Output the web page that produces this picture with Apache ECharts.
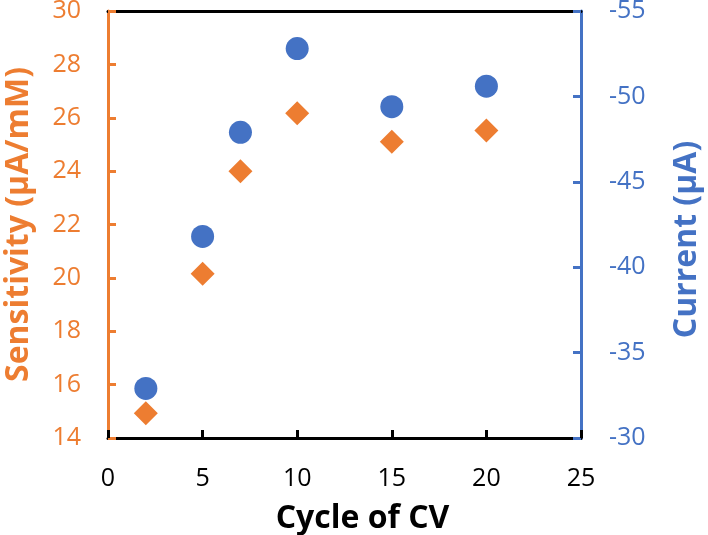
<!DOCTYPE html>
<html><head><meta charset="utf-8">
<script src="https://cdn.jsdelivr.net/npm/echarts@6/dist/echarts.min.js"></script>
<style>html,body{margin:0;padding:0;background:#fff}#c{width:708px;height:535px}</style>
</head><body><div id="c"></div>
<script>
const cycles = [2, 5, 7, 10, 15, 20];
const sensitivity = [14.93, 20.15, 24.0, 26.17, 25.1, 25.52];
const current = [-32.9, -41.8, -47.9, -52.8, -49.4, -50.6];
const ORANGE = '#ED7D31', BLUE = '#4472C4';
const FONT = 'Open Sans';
const chart = echarts.init(document.getElementById('c'));
chart.setOption({
  animation: false,
  grid: { left: 108, right: 127, top: 11, bottom: 97, containLabel: false, outerBoundsMode: 'none' },
  xAxis: [{
    type: 'value', min: 0, max: 25, interval: 5,
    name: 'Cycle of CV', nameLocation: 'middle', nameGap: 65,
    nameTextStyle: { fontFamily: FONT, fontWeight: 'bold', fontSize: 32, color: '#000', padding: [0, 0, 0, 36] },
    axisLine: { onZero: false, lineStyle: { color: '#000', width: 3 } },
    axisTick: { inside: true, length: 8, lineStyle: { color: '#000', width: 3 } },
    axisLabel: { margin: 28, fontFamily: FONT, fontSize: 25, color: '#000' },
    splitLine: { show: false }
  }, {
    type: 'value', min: 0, max: 25, position: 'top',
    axisLine: { onZero: false, lineStyle: { color: '#000', width: 3 } },
    axisTick: { show: false }, axisLabel: { show: false }, splitLine: { show: false }
  }],
  yAxis: [{
    type: 'value', min: 14, max: 30, interval: 2, position: 'left',
    name: 'Sensitivity (μA/mM)', nameLocation: 'middle', nameGap: 73,
    nameTextStyle: { fontFamily: FONT, fontWeight: 'bold', fontSize: 32, color: ORANGE },
    axisLine: { show: true, onZero: false, lineStyle: { color: ORANGE, width: 3 } },
    axisTick: { show: true, inside: true, length: 8, lineStyle: { color: ORANGE, width: 3 } },
    axisLabel: { margin: 27, fontFamily: FONT, fontSize: 25, color: ORANGE },
    splitLine: { show: false }
  }, {
    type: 'value', min: -55, max: -30, interval: 5, inverse: true, position: 'right',
    name: 'Current (μA)', nameLocation: 'middle', nameGap: 90,
    nameTextStyle: { fontFamily: FONT, fontWeight: 'bold', fontSize: 32, color: BLUE, padding: [0, 30, 0, 0] },
    axisLine: { show: true, onZero: false, lineStyle: { color: BLUE, width: 3 } },
    axisTick: { show: true, inside: true, length: 8, lineStyle: { color: BLUE, width: 3 } },
    axisLabel: { margin: 28, fontFamily: FONT, fontSize: 25, color: BLUE },
    splitLine: { show: false }
  }],
  series: [{
    type: 'scatter', yAxisIndex: 0, symbol: 'diamond', symbolSize: 24,
    itemStyle: { color: ORANGE, opacity: 1 },
    data: cycles.map((c, i) => [c, sensitivity[i]])
  }, {
    type: 'scatter', yAxisIndex: 1, symbol: 'circle', symbolSize: 23,
    itemStyle: { color: BLUE, opacity: 1 },
    data: cycles.map((c, i) => [c, current[i]])
  }]
});
</script></body></html>
